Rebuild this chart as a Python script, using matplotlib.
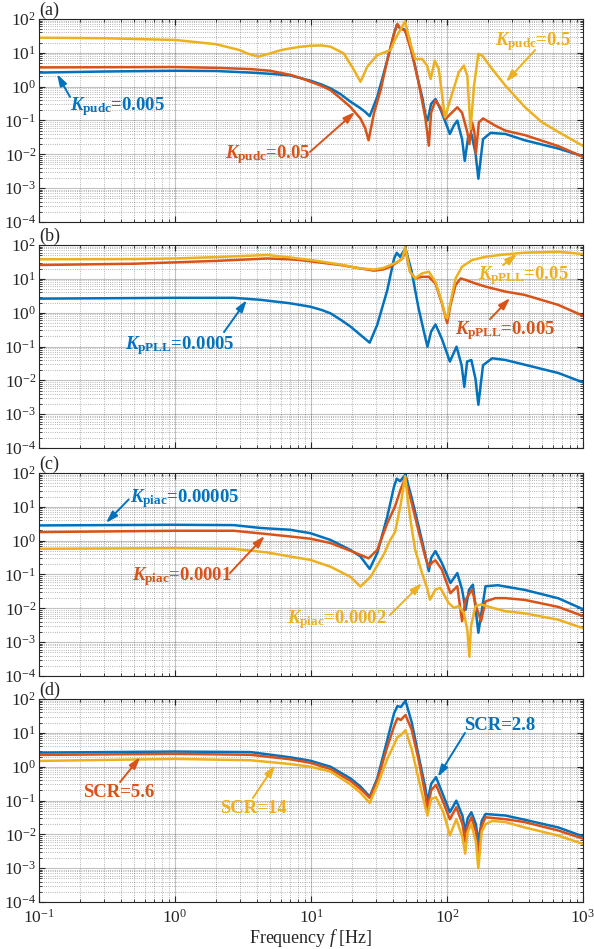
import numpy as np
import matplotlib.pyplot as plt
from matplotlib.ticker import LogLocator, NullFormatter

plt.rcParams['font.family'] = 'Liberation Serif'
plt.rcParams['mathtext.fontset'] = 'custom'
plt.rcParams['mathtext.rm'] = 'Liberation Serif:bold'
plt.rcParams['mathtext.it'] = 'Liberation Serif:italic:bold'
plt.rcParams['mathtext.bf'] = 'Liberation Serif:bold'
plt.rcParams['mathtext.sf'] = 'Liberation Serif:italic'

BLUE = '#0072BD'
RED = '#D95319'
YELLOW = '#EDB120'

# ---- (a) K_pudc sweep ----
fa_blue = [0.1, 0.3, 1, 2, 3.6, 5, 7, 9.9, 12, 13.9, 16.5, 19.5, 23.1, 25, 27, 30.7, 36.4, 40.8, 42.7,
           45.2, 48.4, 52.7, 55, 58.3, 61.8, 66, 69.5, 72, 76.4, 82.2, 89.3, 97.5, 105, 112, 119, 129,
           135, 143, 151, 162, 170, 184, 209, 269, 373, 658, 1000]
va_blue = [2.6, 2.8, 2.95, 2.9, 2.6, 2.4, 2.15, 1.5, 1.15, 0.89, 0.6, 0.36, 0.23, 0.18, 0.134, 0.5, 6.1, 37.6, 66,
           53, 50, 27, 10.3, 4.0, 1.34, 0.45, 0.14, 0.1, 0.31, 0.43, 0.22, 0.088, 0.04, 0.07, 0.099, 0.028,
           0.0064, 0.032, 0.04, 0.011, 0.0019, 0.028, 0.043, 0.04, 0.026, 0.0148, 0.0088]
fa_red = [0.1, 1, 2, 3.6, 5, 7, 8.3, 9.9, 12, 13.9, 16.5, 19.5, 23.1, 25, 26.5, 29, 32.5, 36.4, 40.8,
          43.2, 45.2, 49.2, 55, 61.8, 69.5, 73.5, 76.4, 82.2, 89.3, 97.5, 106, 119, 129, 141, 146, 153,
          159, 163, 171.5, 184, 227, 269, 373, 658, 1000]
va_red = [3.7, 3.8, 3.6, 3.3, 2.95, 2.25, 1.83, 1.4, 1.05, 0.79, 0.45, 0.25, 0.114, 0.06, 0.026, 0.16, 0.79, 6.1, 37,
          71, 53, 45, 10.3, 1.34, 0.11, 0.018, 0.17, 0.39, 0.245, 0.11, 0.156, 0.245, 0.17, 0.045, 0.02, 0.088,
          0.045, 0.0104, 0.088, 0.115, 0.07, 0.05, 0.037, 0.0175, 0.0084]
fa_yellow = [0.1, 0.3, 1, 2, 3, 3.4, 4.1, 5, 6, 7, 8.3, 9.9, 12, 13.9, 17.4, 20.7, 23.1, 25.9, 30.7, 38.5,
             41.5, 45, 49.2, 53.5, 58.3, 65.5, 71.3, 75.8, 81.3, 87, 96.5, 106, 122, 133, 141, 149, 158,
             170, 182, 215, 269, 373, 495, 658, 1000]
va_yellow = [28, 27, 24, 18, 12, 9.6, 7.7, 9.6, 12, 13.5, 15, 16.2, 16.5, 15.2, 9.6, 3.1, 1.39, 3.9, 8.6, 12.1,
             25, 45, 85, 20.5, 6.6, 6.6, 4.2, 1.68, 5.9, 3.3, 0.125, 0.43, 2.66, 4.2, 2.1, 0.056, 1.07,
             9.3, 8.2, 3.3, 1.07, 0.25, 0.091, 0.046, 0.0177]

# ---- (b) K_pPLL sweep ----
fb_blue = [0.1, 1, 2.7, 4.25, 7, 9.9, 12, 13.9, 16.5, 19.5, 23.1, 27, 30.7, 36.4, 40.8, 42.7, 45.2, 49.5,
           55, 61.8, 69.5, 71.8, 76.4, 82.2, 91.6, 105, 117.5, 128, 134, 140.5, 151, 162, 170, 184, 215,
           269, 373, 658, 1000]
vb_blue = [2.6, 2.75, 2.75, 2.4, 1.9, 1.5, 1.2, 0.96, 0.62, 0.39, 0.22, 0.13, 0.44, 4.7, 40, 59, 45, 80,
           16.3, 1.34, 0.17, 0.099, 0.275, 0.45, 0.17, 0.036, 0.099, 0.028, 0.0064, 0.036, 0.04, 0.011, 0.0019, 0.028, 0.045,
           0.04, 0.029, 0.0165, 0.0087]
fb_red = [0.1, 0.5, 1, 2, 4.75, 7, 8.3, 12, 16.5, 22, 29, 34, 38.5, 44, 47, 49.5, 53.5, 58.3, 65.5,
          73.5, 82.2, 91.6, 100.3, 106, 115.6, 126, 137, 162, 192, 269, 373, 658, 1000]
vb_red = [25.7, 28, 30.8, 34, 40, 37.8, 36, 30, 25.6, 21, 17.5, 19, 23, 33, 40, 71, 16.3, 10.3, 11.5,
          11.5, 7.3, 1.9, 0.49, 1.68, 6.6, 10.3, 9.3, 7.3, 5.9, 4.2, 3.35, 1.7, 0.81]
fb_yellow = [0.1, 0.5, 1, 2, 4.75, 7, 10, 16.5, 22, 29, 34, 38.5, 44, 47, 49.2, 53.5, 58.3, 65.5, 73.5,
             82.2, 91.6, 97.5, 100.3, 105, 115.6, 129, 153, 192, 269, 373, 658, 1000]
vb_yellow = [37.8, 38.5, 40, 44, 50.7, 43, 36, 26.5, 21, 18.8, 21, 25.6, 33, 40, 89, 16.3, 10.3, 14.5, 16.3,
             8.2, 2.1, 0.76, 0.68, 1.68, 10.3, 22.9, 36, 45, 53, 59.4, 63.6, 54]

# ---- (c) K_piac sweep ----
fc_blue = [0.1, 1, 2.7, 4.25, 7, 9.9, 13.9, 19.5, 23.1, 27, 30.7, 36.4, 40.8, 42.7, 45.2, 49.5, 55, 61.8,
           69.5, 73.5, 76.4, 82.2, 91.6, 106, 119, 129, 137, 145, 155, 170, 192, 237, 373, 658, 1000]
vc_blue = [2.82, 2.94, 2.88, 2.37, 2.1, 1.66, 1.05, 0.53, 0.34, 0.146, 0.43, 5.2, 40, 68, 57, 89, 18.3, 2.66,
           0.35, 0.125, 0.31, 0.49, 0.22, 0.056, 0.11, 0.036, 0.0091, 0.035, 0.05, 0.0019, 0.045, 0.048, 0.035, 0.0198, 0.0094]
fc_red = [0.1, 1, 2.7, 4.5, 7, 9.9, 13.9, 19.5, 23.1, 26.5, 30.7, 36.4, 41.5, 45.5, 49.2, 55, 61.8, 69.5,
          73.5, 78, 82.2, 91.6, 106, 119, 129, 137, 153, 164, 178, 192, 227, 269, 373, 658, 1000]
vc_red = [1.79, 1.96, 1.96, 1.6, 1.33, 1.14, 0.85, 0.5, 0.38, 0.3, 0.53, 3.3, 10.3, 32, 71, 13, 1.9, 0.31,
          0.17, 0.23, 0.26, 0.14, 0.028, 0.045, 0.0042, 0.018, 0.036, 0.011, 0.0042, 0.016, 0.02, 0.02, 0.0177, 0.011, 0.0059]
fc_yellow = [0.1, 1, 2.7, 4.75, 7, 9.9, 13.9, 19.5, 23.1, 27.4, 34.4, 38, 41.5, 45.7, 49.2, 51.4, 54.5, 58.3,
             65.5, 71.3, 75, 82.2, 89.3, 102.6, 112, 122, 133, 141, 146, 150, 162, 178, 215, 269, 373, 658, 1000]
vc_yellow = [0.574, 0.6, 0.574, 0.45, 0.34, 0.27, 0.17, 0.085, 0.044, 0.085, 0.4, 1.0, 1.8, 12, 80, 16.3, 3.0, 0.54,
             0.11, 0.04, 0.018, 0.036, 0.04, 0.0145, 0.0104, 0.0116, 0.0073, 0.0023, 0.00037, 0.0029, 0.0116, 0.013,
             0.0104, 0.0082, 0.0071, 0.0046, 0.0026]

# ---- (d) SCR sweep ----
fd_blue = [0.1, 1, 3.6, 7, 9.9, 13.9, 19.5, 23.1, 27, 30.7, 36.4, 40.8, 43.2, 45.7, 49.5, 55, 61.8, 69.5,
           71.8, 76.4, 83, 94, 105, 117, 130, 136, 142, 151, 163, 170, 180, 192, 269, 373, 658, 1000]
vd_blue = [2.61, 2.8, 2.7, 1.9, 1.5, 1.0, 0.45, 0.26, 0.13, 0.45, 6.2, 38, 62, 58, 89, 20.5, 2.1, 0.22,
           0.088, 0.31, 0.49, 0.14, 0.045, 0.099, 0.035, 0.012, 0.03, 0.045, 0.02, 0.006, 0.025, 0.04, 0.036, 0.027, 0.016, 0.0087]
fd_red = [0.1, 1, 3.6, 7, 9.9, 13.9, 19.5, 23.1, 27, 30.7, 36.4, 40.8, 43.2, 45.7, 49.5, 55, 61.8, 69.5,
          71.8, 76.4, 83, 94, 105, 117, 130, 136, 142, 151, 163, 170, 180, 192, 269, 373, 658, 1000]
vd_red = [2.23, 2.39, 2.25, 1.66, 1.3, 0.85, 0.38, 0.22, 0.12, 0.38, 3.9, 15.6, 27, 24, 33.6, 12.3, 1.6, 0.14,
          0.05, 0.2, 0.29, 0.088, 0.028, 0.063, 0.02, 0.006, 0.018, 0.032, 0.012, 0.0025, 0.018, 0.032, 0.028, 0.023, 0.013, 0.0075]
fd_yellow = [0.1, 1, 3.6, 7, 9.9, 13.9, 19.5, 23.1, 27, 30.7, 36.4, 40.8, 43.2, 45.7, 49.5, 55, 61.8, 69.5,
             71.8, 76.4, 83, 94, 105, 117, 130, 136, 142, 151, 163, 170, 180, 192, 215, 269, 373, 658, 1000]
vd_yellow = [1.48, 1.7, 1.55, 1.2, 1.0, 0.72, 0.3, 0.17, 0.085, 0.28, 1.7, 4.5, 7.5, 8.5, 12.0, 3.3, 0.43, 0.06,
             0.036, 0.11, 0.125, 0.045, 0.0093, 0.028, 0.008, 0.0027, 0.012, 0.02, 0.006, 0.001, 0.012, 0.02, 0.025,
             0.023, 0.016, 0.0092, 0.0052]

panel_tags = ['(a)', '(b)', '(c)', '(d)']
x_ticks = [0.1, 1, 10, 100, 1000]
y_ticks = [1e-4, 1e-3, 1e-2, 1e-1, 1, 10, 100]

fig = plt.figure(figsize=(5.94, 9.49), dpi=100)
bottoms = [0.7661, 0.5279, 0.2877, 0.0495]
axes = [fig.add_axes([0.0657, b, 0.9158, 0.2139]) for b in bottoms]

curves = [
    [(fa_blue, va_blue, BLUE), (fa_red, va_red, RED), (fa_yellow, va_yellow, YELLOW)],
    [(fb_blue, vb_blue, BLUE), (fb_red, vb_red, RED), (fb_yellow, vb_yellow, YELLOW)],
    [(fc_blue, vc_blue, BLUE), (fc_red, vc_red, RED), (fc_yellow, vc_yellow, YELLOW)],
    [(fd_blue, vd_blue, BLUE), (fd_red, vd_red, RED), (fd_yellow, vd_yellow, YELLOW)],
]


def style_axes(ax, tag, last):
    ax.set_xscale('log')
    ax.set_yscale('log')
    ax.set_xlim(0.1, 1000)
    ax.set_ylim(1e-4, 1e2)
    ax.xaxis.set_minor_locator(LogLocator(base=10, subs=np.arange(2, 10), numticks=100))
    ax.yaxis.set_minor_locator(LogLocator(base=10, subs=np.arange(2, 10), numticks=100))
    ax.set_xticks(x_ticks)
    ax.set_yticks(y_ticks)
    ax.xaxis.set_minor_formatter(NullFormatter())
    ax.yaxis.set_minor_formatter(NullFormatter())
    ax.grid(which='major', color='#262626', alpha=0.28, lw=0.8, ls='-')
    ax.grid(which='minor', color='#262626', alpha=0.45, lw=0.6, ls=':')
    ax.tick_params(which='both', direction='in', top=True, right=True, labelsize=12.5,
                   colors='#262626')
    ax.tick_params(axis='y', pad=2)
    ax.tick_params(axis='x', pad=5)
    ax.tick_params(which='major', length=4)
    ax.tick_params(which='minor', length=2)
    for s in ax.spines.values():
        s.set_color('#262626')
        s.set_linewidth(0.8)
    if not last:
        ax.tick_params(labelbottom=False)
    ax.text(0.0, 1.0, tag, transform=ax.transAxes, ha='left', va='bottom', fontsize=13, color='#262626')


def label(ax, txt, pos, tail, tip, color):
    ax.text(pos[0], pos[1], txt, transform=ax.transAxes, ha='left', va='center',
            fontsize=13.5, fontweight='bold', color=color)
    ax.annotate('', xy=tip, xytext=tail, xycoords='axes fraction', textcoords='axes fraction',
                arrowprops=dict(arrowstyle='-|>,head_width=0.22,head_length=0.7', color=color,
                                lw=1.4, shrinkA=0, shrinkB=0))


for i, ax in enumerate(axes):
    for f, v, c in curves[i]:
        ax.plot(f, v, color=c, lw=1.8, solid_joinstyle='round')
    style_axes(ax, panel_tags[i], i == 3)

ax = axes[0]
label(ax, r'$K_{\mathrm{pudc}}$=0.005', (0.057, 0.567), (0.057, 0.616), (0.033, 0.729), BLUE)
label(ax, r'$K_{\mathrm{pudc}}$=0.05', (0.342, 0.330), (0.498, 0.345), (0.581, 0.542), RED)
label(ax, r'$K_{\mathrm{pudc}}$=0.5', (0.838, 0.887), (0.912, 0.847), (0.858, 0.690), YELLOW)

ax = axes[1]
label(ax, r'$K_{\mathrm{pPLL}}$=0.0005', (0.158, 0.507), (0.340, 0.571), (0.382, 0.729), BLUE)
label(ax, r'$K_{\mathrm{pPLL}}$=0.05', (0.807, 0.852), (0.853, 0.901), (0.879, 0.956), YELLOW)
label(ax, r'$K_{\mathrm{pPLL}}$=0.005', (0.765, 0.581), (0.829, 0.635), (0.866, 0.739), RED)

ax = axes[2]
label(ax, r'$K_{\mathrm{piac}}$=0.00005', (0.167, 0.872), (0.165, 0.870), (0.123, 0.754), BLUE)
label(ax, r'$K_{\mathrm{piac}}$=0.0001', (0.171, 0.488), (0.351, 0.507), (0.415, 0.690), RED)
label(ax, r'$K_{\mathrm{piac}}$=0.0002', (0.456, 0.276), (0.645, 0.300), (0.704, 0.458), YELLOW)

ax = axes[3]
label(ax, 'SCR=5.6', (0.081, 0.542), (0.149, 0.591), (0.186, 0.714), RED)
label(ax, 'SCR=14', (0.333, 0.463), (0.393, 0.512), (0.434, 0.675), YELLOW)
label(ax, 'SCR=2.8', (0.781, 0.872), (0.783, 0.833), (0.733, 0.616), BLUE)

axes[3].set_xlabel(r'Frequency $\mathsf{f}$ [Hz]', fontsize=13, color='#262626', labelpad=0)

fig.savefig('out.png', dpi=100)
